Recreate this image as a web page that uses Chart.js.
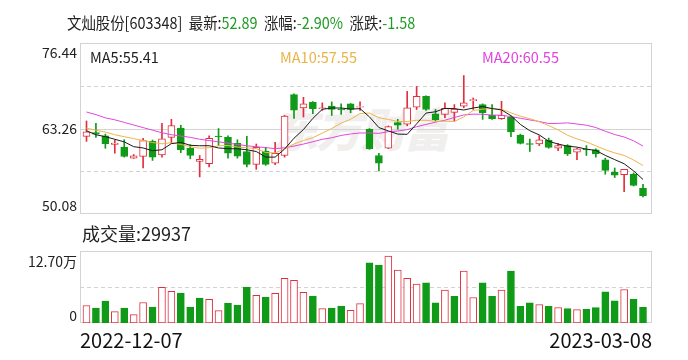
<!DOCTYPE html>
<html><head><meta charset="utf-8">
<script src="https://cdn.jsdelivr.net/npm/chart.js@4.4.0/dist/chart.umd.min.js"></script>
<style>
html,body{margin:0;padding:0;background:#fff;}
#wrap{position:relative;width:688px;height:360px;overflow:hidden;font-family:"Noto Sans CJK SC","Noto Sans",sans-serif;}
canvas{position:absolute;left:0;top:0;}
.t{position:absolute;white-space:nowrap;line-height:1;}
.g{color:#1f9c25;}
#wm{position:absolute;left:272px;top:104px;font-size:46px;font-weight:900;font-style:italic;color:#f1eeee;letter-spacing:-2px;white-space:nowrap;line-height:1;}
</style></head>
<body>
<div id="wrap">
<div id="wm">东方财富</div>
<canvas id="pc" width="688" height="360"></canvas>
<canvas id="vc" width="688" height="360"></canvas>
<div class="t" id="title" style="left:67px;top:14px;font-size:16px;color:#222;transform:scaleX(0.9);transform-origin:0 0;"></div>
<div class="t" id="ma5l" style="left:90px;top:50px;font-size:14.5px;color:#222"></div>
<div class="t" id="ma10l" style="left:280px;top:50px;font-size:14.5px;color:#e9b447"></div>
<div class="t" id="ma20l" style="left:482px;top:50px;font-size:14.5px;color:#e044df"></div>
<div class="t" id="voll" style="left:82px;top:224px;font-size:18px;color:#222"></div>
</div>
<script>
const stockName = '文灿股份';
const stockCode = '603348';
const dates = ['2022-12-07','2022-12-08','2022-12-09','2022-12-12','2022-12-13','2022-12-14','2022-12-15','2022-12-16','2022-12-19','2022-12-20',
'2022-12-21','2022-12-22','2022-12-23','2022-12-26','2022-12-27','2022-12-28','2022-12-29','2022-12-30','2023-01-03','2023-01-04',
'2023-01-05','2023-01-06','2023-01-09','2023-01-10','2023-01-11','2023-01-12','2023-01-13','2023-01-16','2023-01-17','2023-01-18',
'2023-01-19','2023-01-20','2023-01-30','2023-01-31','2023-02-01','2023-02-02','2023-02-03','2023-02-06','2023-02-07','2023-02-08',
'2023-02-09','2023-02-10','2023-02-13','2023-02-14','2023-02-15','2023-02-16','2023-02-17','2023-02-20','2023-02-21','2023-02-22',
'2023-02-23','2023-02-24','2023-02-27','2023-02-28','2023-03-01','2023-03-02','2023-03-03','2023-03-06','2023-03-07','2023-03-08'];
const opens = [62.04,62.65,62.14,60.82,60.36,58.69,58.94,61.28,59.20,61.89,
63.31,60.26,58.18,57.83,62.09,61.89,60.97,59.71,57.73,59.76,
57.93,59.10,68.48,66.45,67.31,66.30,66.70,66.25,67.06,66.55,
63.15,59.10,60.21,64.17,63.91,66.55,68.22,65.54,65.43,65.75,
66.70,67.56,66.95,65.28,64.77,65.03,62.24,60.92,60.87,61.48,
60.21,60.62,59.60,60.06,59.96,58.44,56.56,56.16,56.21,54.03];
const highs = [64.42,64.07,62.39,61.48,61.53,59.25,61.73,61.48,64.07,64.67,
63.76,60.77,59.10,62.14,63.25,62.14,61.53,62.04,60.87,60.36,
61.12,65.28,68.60,68.07,67.40,67.21,67.36,67.06,67.11,67.36,
63.25,59.45,63.66,64.67,68.98,69.74,68.30,66.19,67.21,66.95,
71.42,67.97,67.06,66.95,67.46,65.18,62.39,61.63,62.14,61.78,
60.97,60.77,60.21,60.62,60.11,58.69,57.17,56.97,56.41,54.64];
const lows = [61.28,61.89,60.21,59.45,58.85,58.64,57.17,58.34,58.84,60.97,
59.55,58.59,55.80,57.32,60.62,58.69,58.69,57.32,56.97,57.58,
57.68,58.84,64.83,65.03,65.54,66.04,65.28,65.43,65.69,66.04,
60.05,56.71,60.15,63.15,63.66,66.19,66.04,64.42,64.93,64.42,
66.45,66.19,64.67,64.67,64.67,62.00,60.87,59.71,60.62,60.21,
59.86,59.10,58.44,59.10,58.84,56.21,55.70,53.52,54.40,52.70];
const closes = [62.75,62.39,60.92,61.00,58.94,59.05,61.38,58.84,61.68,63.71,
60.01,59.10,58.49,61.73,61.99,59.45,59.00,57.73,60.36,57.73,
59.45,65.18,66.09,67.06,66.30,66.45,66.19,66.12,66.19,66.65,
60.11,57.93,63.56,63.76,66.45,68.22,66.19,64.57,66.35,66.25,
67.21,67.72,65.69,64.77,65.28,62.75,60.97,60.82,61.53,60.36,
60.62,59.35,60.11,59.96,59.35,56.81,56.05,56.97,54.47,52.89];
const ma5 = [62.9,62.3,62.0,61.6,61.20,60.46,60.26,59.84,59.98,60.93,
61.12,60.67,60.60,60.61,60.26,60.15,60.13,59.98,59.71,58.85,
58.85,60.09,61.76,63.10,64.82,66.22,66.42,66.42,66.25,66.32,
65.05,63.40,62.89,62.40,62.36,63.98,65.64,65.84,66.36,66.32,
66.11,66.42,66.64,66.33,66.13,65.24,63.89,62.92,62.27,61.29,
60.86,60.54,60.39,60.08,59.88,59.12,58.46,57.83,56.73,55.41];
const ma10 = [63.3,63.0,62.7,62.3,62.0,61.7,61.4,61.1,60.9,61.07,
60.79,60.47,60.22,60.30,60.60,60.64,60.40,60.29,60.16,59.56,
59.50,60.11,60.87,61.41,61.84,62.54,63.26,64.09,64.68,65.57,
65.64,64.91,64.66,64.33,64.34,64.52,64.52,64.37,64.38,64.34,
65.05,66.03,66.24,66.35,66.23,65.68,65.16,64.78,64.30,63.71,
63.05,62.22,61.66,61.18,60.59,59.99,59.50,59.11,58.41,57.55];
const ma20 = [65.8,65.4,64.9,64.6,64.2,63.8,63.4,63.0,62.6,62.3,
62.1,61.9,61.6,61.4,61.2,61.0,60.8,60.6,60.45,60.32,
60.15,60.29,60.55,60.86,61.22,61.59,61.83,62.19,62.42,62.57,
62.57,62.51,62.77,62.87,63.09,63.53,63.89,64.23,64.53,64.96,
65.35,65.47,65.45,65.34,65.29,65.10,64.84,64.58,64.34,64.03,
64.05,64.13,63.95,63.77,63.41,62.84,62.33,61.95,61.36,60.55];
const volumes = [33200,28100,41500,21700,28100,16000,38900,30000,67700,60000,
56800,30000,47200,44700,23600,37700,33800,68300,52300,49100,
56200,84900,81100,58100,51100,27400,28100,31900,24100,36800,
114300,109900,127000,100300,84500,73700,76200,38100,62200,50800,
98400,48300,76200,50800,62200,98400,31800,38100,34900,31800,
29200,27300,25400,26000,29200,59100,41900,63500,45100,29937];
const priceTicks = [50.08, 63.26, 76.44];

const FONT = '"Noto Sans CJK SC","Noto Sans",sans-serif';
const RED = '#e0303f', GREEN = '#0f9a17', GRID = '#d3d3d3';
const n = closes.length;
const up = closes.map((c,i)=>c>=opens[i]);
const volUp = closes.map((c,i)=> i===0 ? c>=opens[0] : c>=closes[i-1]);

const last = closes[n-1], prev = closes[n-2];
const chg = last - prev, pct = chg/prev*100;
document.getElementById('title').innerHTML =
  stockName + '[' + stockCode + ']&nbsp; 最新:<span class="g">' + last.toFixed(2) +
  '</span>&nbsp; 涨幅:<span class="g">' + pct.toFixed(2) + '%</span>&nbsp; 涨跌:<span class="g">' + chg.toFixed(2) + '</span>';
document.getElementById('ma5l').textContent = 'MA5:' + ma5[n-1].toFixed(2);
document.getElementById('ma10l').textContent = 'MA10:' + ma10[n-1].toFixed(2);
document.getElementById('ma20l').textContent = 'MA20:' + ma20[n-1].toFixed(2);
document.getElementById('voll').textContent = '成交量:' + volumes[n-1];

const XMIN = -0.689, XMAX = 59.954;

function hline(ctx, a, y, dash){
  ctx.setLineDash(dash);
  const yy = Math.round(y) + 0.5;
  ctx.beginPath(); ctx.moveTo(a.left, yy); ctx.lineTo(a.right, yy); ctx.stroke();
}
function box(ctx, a){
  ctx.setLineDash([]);
  ctx.strokeRect(Math.round(a.left)+0.5, Math.round(a.top)+0.5, Math.round(a.right-a.left)-1, Math.round(a.bottom-a.top)-1);
}

const priceFrame = {
  id:'priceFrame',
  beforeDatasetsDraw(chart){
    const {ctx, chartArea:a, scales:{y}} = chart;
    ctx.save(); ctx.lineWidth = 1; ctx.strokeStyle = GRID;
    box(ctx, a);
    const q = (y.max - y.min)/4;
    for (let k=1;k<=3;k++){
      hline(ctx, a, y.getPixelForValue(y.min + q*k), k===2 ? [] : [4,3]);
    }
    ctx.restore();
  },
  afterDraw(chart){
    const {ctx, scales:{y}} = chart;
    ctx.save();
    ctx.font = '14px ' + FONT; ctx.fillStyle = '#222'; ctx.textAlign = 'right'; ctx.textBaseline = 'middle';
    ctx.fillText(priceTicks[2].toFixed(2), 77, y.getPixelForValue(priceTicks[2]) + 9.5);
    ctx.fillText(priceTicks[1].toFixed(2), 77, y.getPixelForValue(priceTicks[1]));
    ctx.fillText(priceTicks[0].toFixed(2), 77, y.getPixelForValue(priceTicks[0]) - 8);
    ctx.restore();
  }
};

const volFrame = {
  id:'volFrame',
  beforeDatasetsDraw(chart){
    const {ctx, chartArea:a} = chart;
    ctx.save(); ctx.lineWidth = 1; ctx.strokeStyle = GRID;
    box(ctx, a);
    hline(ctx, a, (a.top + a.bottom)/2, [4,3]);
    ctx.restore();
  },
  afterDraw(chart){
    const {ctx, chartArea:a} = chart;
    const vmax = Math.max(...volumes);
    ctx.save();
    ctx.font = '14px ' + FONT; ctx.fillStyle = '#222'; ctx.textAlign = 'right'; ctx.textBaseline = 'middle';
    ctx.fillText((vmax/10000).toFixed(2) + '万', 77, a.top + 11);
    ctx.fillText('0', 77, a.bottom - 7);
    ctx.restore();
  }
};

new Chart(document.getElementById('pc'), {
  type:'bar',
  data:{ datasets:[
    {type:'line', data: ma5.map((v,i)=>({x:i,y:v})), borderColor:'#1a1a1a', borderWidth:1, pointRadius:0, tension:0, order:0},
    {type:'line', data: ma10.map((v,i)=>({x:i,y:v})), borderColor:'#efb54a', borderWidth:1, pointRadius:0, tension:0, order:0},
    {type:'line', data: ma20.map((v,i)=>({x:i,y:v})), borderColor:'#e246e0', borderWidth:1, pointRadius:0, tension:0, order:0},
    {type:'bar', data: opens.map((o,i)=>({x:i,y:[o,closes[i]]})),
      backgroundColor: up.map(u=>u?'#ffffff':GREEN), borderColor: up.map(u=>u?RED:GREEN),
      borderWidth:1, borderSkipped:false, barThickness:7, grouped:false, order:1},
    {type:'bar', data: lows.map((l,i)=>({x:i,y:[l,highs[i]]})),
      backgroundColor: up.map(u=>u?RED:GREEN), borderWidth:0, barThickness:1, grouped:false, order:2}
  ]},
  options:{
    responsive:false, animation:false, events:[],
    layout:{padding:{left:80,right:36,top:43,bottom:146}},
    plugins:{legend:{display:false}, tooltip:{enabled:false}},
    scales:{
      x:{type:'linear', min:XMIN, max:XMAX, offset:false, display:false},
      y:{type:'linear', min:priceTicks[0], max:priceTicks[2], display:false}
    }
  },
  plugins:[priceFrame]
});

new Chart(document.getElementById('vc'), {
  type:'bar',
  data:{ datasets:[
    {data: volumes.map((v,i)=>({x:i,y:v})),
     backgroundColor: volUp.map(u=>u?'#ffffff':GREEN), borderColor: volUp.map(u=>u?RED:GREEN),
     borderWidth:1, borderSkipped:false, barThickness:7}
  ]},
  options:{
    responsive:false, animation:false, events:[],
    layout:{padding:{left:80,right:36,top:251,bottom:0}},
    plugins:{legend:{display:false}, tooltip:{enabled:false}},
    scales:{
      x:{type:'linear', min:XMIN, max:XMAX, offset:false,
         grid:{display:false, drawTicks:false}, border:{display:false},
         afterBuildTicks: s => { s.ticks = [{value:XMIN},{value:XMAX}]; },
         afterFit: s => { s.height = 37; },
         ticks:{align:'inner', maxRotation:0, autoSkip:false, padding:5, color:'#111',
                font:{size:20, family:FONT},
                callback:(v,i)=> i===0 ? dates[0] : dates[n-1]}},
      y:{type:'linear', min:0, max:Math.max(...volumes)*1.075, display:false}
    }
  },
  plugins:[volFrame]
});
</script>
</body></html>
